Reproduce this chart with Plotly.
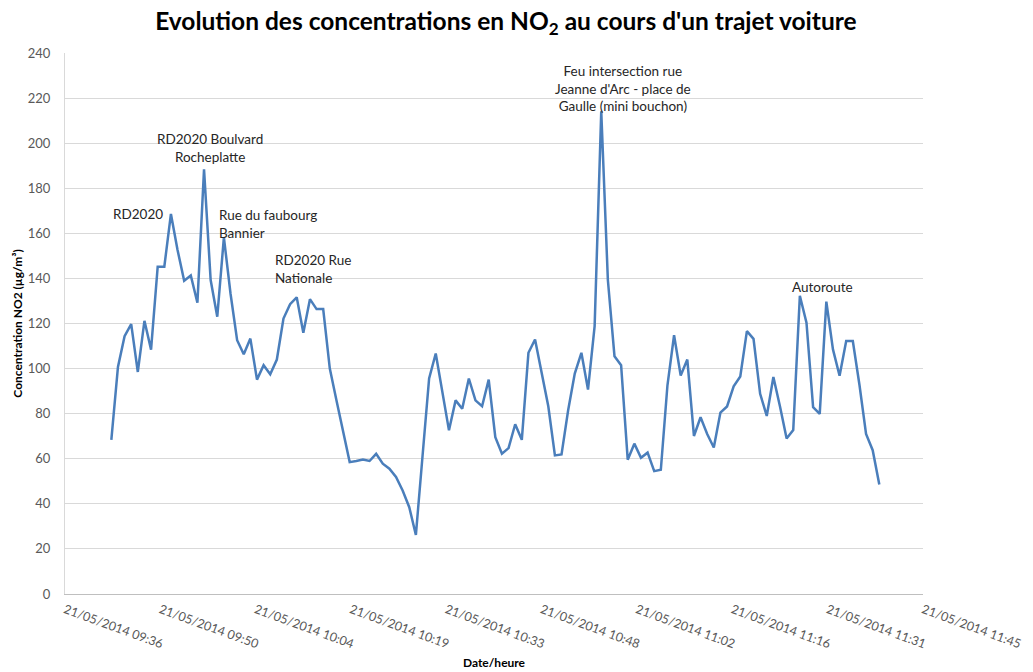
import pandas as pd
import plotly.graph_objects as go

# NO2 concentration (µg/m³), one reading per minute
no2 = [
    68.4, 100.7, 114.4, 119.7, 98.5, 121.2, 108.4, 145.2, 145.2, 168.6,
    152.6, 139.0, 141.3, 129.2, 188.4, 139.3, 123.0, 158.2, 133.3, 112.6,
    106.4, 113.3, 95.1, 101.5, 97.5, 104.0, 122.2, 128.6, 131.6,
    115.9, 130.8, 126.4, 126.4, 100.0, 86.0, 72.6, 58.5, 59.0, 59.6,
    59.0, 62.2, 57.8, 55.6, 51.9, 45.9, 38.5, 26.2, 61.0, 95.6,
    106.7, 89.6, 72.6, 85.9, 82.2, 95.6, 85.9, 83.3, 95.1,
    69.6, 62.2, 64.7, 75.3, 68.4, 107.0, 112.9, 97.8, 83.3, 61.5,
    61.9, 81.5, 97.8, 107.0, 90.7, 118.8, 214.1, 139.3, 105.5, 101.5,
    59.6, 66.7, 60.4, 62.7, 54.5, 55.1, 92.6, 114.8, 96.9, 104.0,
    70.1, 78.4, 71.0, 65.0, 80.5, 83.2, 92.1, 96.5, 116.6, 113.2,
    88.8, 79.0, 96.3, 83.2, 69.0, 72.7, 132.3, 120.4, 82.9, 79.9,
    129.7, 108.5, 96.8, 112.2, 112.2, 92.8, 71.0, 63.8, 48.6,
]
start_time = "2014-05-21 09:43:00"
times = pd.date_range(start_time, periods=len(no2), freq="min")

tick_times = [
    "2014-05-21 09:36:00", "2014-05-21 09:50:24", "2014-05-21 10:04:48",
    "2014-05-21 10:19:12", "2014-05-21 10:33:36", "2014-05-21 10:48:00",
    "2014-05-21 11:02:24", "2014-05-21 11:16:48", "2014-05-21 11:31:12",
    "2014-05-21 11:45:36",
]
tick_labels = [
    "21/05/2014 09:36", "21/05/2014 09:50", "21/05/2014 10:04",
    "21/05/2014 10:19", "21/05/2014 10:33", "21/05/2014 10:48",
    "21/05/2014 11:02", "21/05/2014 11:16", "21/05/2014 11:31",
    "21/05/2014 11:45",
]
y_ticks = list(range(0, 241, 20))

labels = [
    ("RD2020", 0.0851, 0.7024, "center"),
    ("RD2020 Boulvard<br>Rocheplatte", 0.169, 0.8244, "center"),
    ("Rue du faubourg<br>Bannier", 0.1772, 0.6848, "left"),
    ("RD2020 Rue<br>Nationale", 0.2424, 0.6007, "left"),
    ("Feu intersection rue<br>Jeanne d'Arc - place de<br>Gaulle (mini bouchon)", 0.6503, 0.9335, "center"),
    ("Autoroute", 0.8823, 0.5675, "center"),
]

FONT = "Lato"
fig = go.Figure()
fig.add_trace(go.Scatter(
    x=times, y=no2, mode="lines",
    line=dict(color="#4a7ebb", width=2.5),
    showlegend=False, hoverinfo="x+y",
))

for text, px, py, al in labels:
    fig.add_annotation(
        text=text, x=px, y=py, xref="paper", yref="paper",
        xanchor=al, yanchor="middle", align=al, showarrow=False,
        font=dict(family=FONT, size=13.5, color="#262626"),
    )

fig.update_layout(
    width=1033, height=672,
    margin=dict(l=57, r=118, t=45, b=86, autoexpand=False),
    paper_bgcolor="white", plot_bgcolor="white",
    font=dict(family=FONT, color="#595959"),
    title=dict(
        text="Evolution des concentrations en NO<sub>2</sub> au cours d'un trajet voiture",
        x=0.482, xanchor="center", y=1 - 13 / 672, yanchor="middle",
        yref="container", automargin=False,
        font=dict(family=FONT, size=24.5, color="#000000", weight="bold"),
    ),
)
fig.update_xaxes(
    range=[tick_times[0], tick_times[-1]],
    tickmode="array", tickvals=tick_times, ticktext=tick_labels,
    tickangle=20, tickfont=dict(family=FONT, size=12.5, color="#595959"),
    showgrid=False, showline=True, linecolor="#bfbfbf", linewidth=1,
    zeroline=False, ticks="", automargin=False, ticklabelstandoff=3,
    title=dict(text="Date/heure", standoff=8,
               font=dict(family=FONT, size=12, color="#000000", weight="bold")),
)
fig.update_yaxes(
    range=[0, 240], tickmode="array", tickvals=y_ticks,
    tickfont=dict(family=FONT, size=13, color="#595959"),
    showgrid=True, gridcolor="#d9d9d9", gridwidth=1,
    showline=True, linecolor="#d9d9d9", linewidth=1,
    zeroline=False, ticks="", automargin=False, ticklabelstandoff=11,
    title=dict(text="Concentration NO2 (µg/m³)", standoff=2,
               font=dict(family=FONT, size=12, color="#000000", weight="bold")),
)

fig.write_html("out.html")
